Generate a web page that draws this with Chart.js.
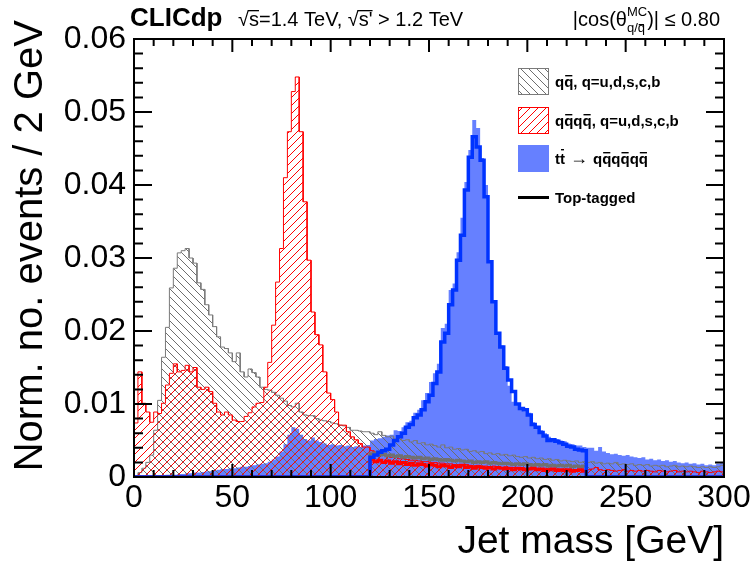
<!DOCTYPE html>
<html>
<head>
<meta charset="utf-8">
<script src="https://cdn.jsdelivr.net/npm/chart.js@4.4.0/dist/chart.umd.min.js"></script>
<style>
  body { margin: 0; background: #fff; }
  #wrap { width: 755px; height: 565px; }
</style>
</head>
<body>
<div id="wrap"><canvas id="massChart" width="755" height="565"></canvas></div>
<script>
// Binning (GeV)
var binWidth = 2;
var massMin = 0;
var massMax = 300;
var yMax = 0.06;
// mass window of the top-tagged distributions (GeV)
var tagWindow = [120, 230];

// q qbar background, 150 bins of 2 GeV
var qqValues = [
  0.0002, 0.0006, 0.0012, 0.0020, 0.0030, 0.0064, 0.0105, 0.0164, 0.0205, 0.0259,
  0.0286, 0.0307, 0.0310, 0.0313, 0.0300, 0.0293, 0.0266, 0.0257, 0.0236, 0.0222,
  0.0206, 0.0192, 0.0178, 0.0176, 0.0170, 0.0158, 0.0170, 0.0144, 0.0137, 0.0148,
  0.0143, 0.0137, 0.0123, 0.0120, 0.0119, 0.0116, 0.0112, 0.0108, 0.0104, 0.0098,
  0.0096, 0.0101, 0.0089, 0.0085, 0.0084, 0.0084, 0.0080, 0.0078, 0.0077, 0.0076,
  0.0074, 0.0073, 0.0071, 0.0070, 0.0068, 0.0064, 0.0064, 0.0063, 0.0062, 0.0062,
  0.0060, 0.0058, 0.0062, 0.0057, 0.0055, 0.0056, 0.0052, 0.0054, 0.0050, 0.0051,
  0.0048, 0.0050, 0.0046, 0.0047, 0.0044, 0.0045, 0.0043, 0.0041, 0.0044, 0.0040,
  0.0041, 0.0038, 0.0039, 0.0037, 0.0038, 0.0035, 0.0036, 0.0034, 0.0035, 0.0032,
  0.0033, 0.0031, 0.0032, 0.0030, 0.0031, 0.0029, 0.0030, 0.0028, 0.0027, 0.0028,
  0.0026, 0.0027, 0.0025, 0.0026, 0.0024, 0.0025, 0.0023, 0.0024, 0.0022, 0.0023,
  0.0022, 0.0021, 0.0022, 0.0020, 0.0021, 0.0020, 0.0021, 0.0019, 0.0020, 0.0018,
  0.0019, 0.0018, 0.0020, 0.0017, 0.0018, 0.0017, 0.0018, 0.0016, 0.0017, 0.0016,
  0.0017, 0.0015, 0.0016, 0.0015, 0.0016, 0.0014, 0.0015, 0.0016, 0.0014, 0.0015,
  0.0014, 0.0015, 0.0014, 0.0013, 0.0014, 0.0013, 0.0014, 0.0013, 0.0014, 0.0016
];

// q qbar q qbar background
var qqqqValues = [
  0.0074, 0.0144, 0.0101, 0.0089, 0.0075, 0.0089, 0.0087, 0.0101, 0.0126, 0.0142,
  0.0155, 0.0144, 0.0146, 0.0153, 0.0144, 0.0150, 0.0123, 0.0120, 0.0123, 0.0117,
  0.0101, 0.0089, 0.0085, 0.0089, 0.0085, 0.0078, 0.0076, 0.0076, 0.0083, 0.0088,
  0.0096, 0.0101, 0.0102, 0.0123, 0.0157, 0.0208, 0.0267, 0.0313, 0.0410, 0.0473,
  0.0528, 0.0548, 0.0473, 0.0377, 0.0297, 0.0226, 0.0195, 0.0181, 0.0144, 0.0115,
  0.0106, 0.0089, 0.0071, 0.0071, 0.0062, 0.0055, 0.0051, 0.0046, 0.0041, 0.0041,
  0.0036, 0.0034, 0.0032, 0.0030, 0.0029, 0.0027, 0.0027, 0.0025, 0.0025, 0.0024,
  0.0023, 0.0023, 0.0022, 0.0021, 0.0021, 0.0020, 0.0020, 0.0019, 0.0019, 0.0018,
  0.0018, 0.0017, 0.0017, 0.0016, 0.0017, 0.0016, 0.0015, 0.0016, 0.0015, 0.0015,
  0.0014, 0.0015, 0.0014, 0.0013, 0.0014, 0.0013, 0.0013, 0.0012, 0.0013, 0.0012,
  0.0012, 0.0011, 0.0012, 0.0011, 0.0012, 0.0011, 0.0010, 0.0011, 0.0010, 0.0011,
  0.0010, 0.0010, 0.0009, 0.0010, 0.0009, 0.0010, 0.0011, 0.0013, 0.0010, 0.0009,
  0.0010, 0.0009, 0.0008, 0.0009, 0.0010, 0.0008, 0.0009, 0.0008, 0.0009, 0.0008,
  0.0009, 0.0008, 0.0007, 0.0009, 0.0008, 0.0007, 0.0008, 0.0009, 0.0007, 0.0008,
  0.0007, 0.0008, 0.0007, 0.0006, 0.0008, 0.0007, 0.0006, 0.0007, 0.0008, 0.0007
];

// t tbar -> 6 quarks signal
var ttValues = [
  0.0001, 0.0001, 0.0001, 0.0001, 0.0002, 0.0002, 0.0002, 0.0002, 0.0003, 0.0003,
  0.0003, 0.0004, 0.0004, 0.0005, 0.0005, 0.0006, 0.0006, 0.0007, 0.0008, 0.0008,
  0.0009, 0.0010, 0.0011, 0.0011, 0.0012, 0.0012, 0.0013, 0.0014, 0.0014, 0.0015,
  0.0016, 0.0017, 0.0018, 0.0019, 0.0021, 0.0024, 0.0028, 0.0035, 0.0045, 0.0058,
  0.0068, 0.0066, 0.0058, 0.0052, 0.0050, 0.0054, 0.0050, 0.0048, 0.0046, 0.0044,
  0.0045, 0.0043, 0.0044, 0.0042, 0.0043, 0.0041, 0.0042, 0.0041, 0.0043, 0.0044,
  0.0050, 0.0052, 0.0053, 0.0055, 0.0057, 0.0058, 0.0064, 0.0063, 0.0068, 0.0075,
  0.0077, 0.0088, 0.0092, 0.0105, 0.0115, 0.0130, 0.0142, 0.0155, 0.0204, 0.0210,
  0.0256, 0.0265, 0.0308, 0.0355, 0.0404, 0.0448, 0.0489, 0.0478, 0.0437, 0.0400,
  0.0297, 0.0240, 0.0197, 0.0180, 0.0152, 0.0125, 0.0103, 0.0099, 0.0094, 0.0090,
  0.0088, 0.0075, 0.0070, 0.0064, 0.0060, 0.0055, 0.0053, 0.0052, 0.0050, 0.0049,
  0.0046, 0.0045, 0.0043, 0.0043, 0.0041, 0.0040, 0.0040, 0.0036, 0.0041, 0.0035,
  0.0033, 0.0031, 0.0032, 0.0030, 0.0029, 0.0030, 0.0028, 0.0027, 0.0026, 0.0027,
  0.0024, 0.0025, 0.0023, 0.0024, 0.0022, 0.0023, 0.0021, 0.0022, 0.0020, 0.0019,
  0.0020, 0.0018, 0.0019, 0.0017, 0.0018, 0.0016, 0.0017, 0.0016, 0.0018, 0.0019
];

// Top-tagged distributions, bins inside tagWindow only (120-230 GeV)
var ttTagged = [
  0.0027, 0.0030, 0.0034, 0.0036, 0.0038, 0.0044, 0.0050, 0.0055, 0.0060, 0.0068,
  0.0072, 0.0081, 0.0085, 0.0092, 0.0103, 0.0112, 0.0128, 0.0144, 0.0185, 0.0197,
  0.0236, 0.0256, 0.0297, 0.0331, 0.0393, 0.0438, 0.0466, 0.0452, 0.0434, 0.0384,
  0.0295, 0.0240, 0.0197, 0.0178, 0.0149, 0.0133, 0.0117, 0.0100, 0.0094, 0.0092,
  0.0085, 0.0072, 0.0068, 0.0061, 0.0056, 0.0050, 0.0051, 0.0049, 0.0047, 0.0045,
  0.0042, 0.0041, 0.0038, 0.0037, 0.0036
];
var qqTagged = [
  0.0032, 0.0033, 0.0030, 0.0031, 0.0029, 0.0030, 0.0028, 0.0029, 0.0027, 0.0028,
  0.0027, 0.0026, 0.0027, 0.0025, 0.0026, 0.0024, 0.0025, 0.0024, 0.0023, 0.0024,
  0.0023, 0.0022, 0.0023, 0.0022, 0.0021, 0.0022, 0.0020, 0.0021, 0.0020, 0.0021,
  0.0019, 0.0020, 0.0019, 0.0018, 0.0019, 0.0018, 0.0017, 0.0018, 0.0017, 0.0018,
  0.0017, 0.0016, 0.0017, 0.0016, 0.0017, 0.0015, 0.0016, 0.0015, 0.0016, 0.0015,
  0.0016, 0.0014, 0.0015, 0.0014, 0.0015
];
var qqqqTagged = [
  0.0024, 0.0021, 0.0023, 0.0020, 0.0022, 0.0019, 0.0021, 0.0018, 0.0020, 0.0017,
  0.0019, 0.0016, 0.0018, 0.0017, 0.0015, 0.0017, 0.0016, 0.0014, 0.0016, 0.0015,
  0.0013, 0.0015, 0.0014, 0.0016, 0.0013, 0.0014, 0.0012, 0.0014, 0.0013, 0.0012,
  0.0013, 0.0011, 0.0013, 0.0012, 0.0011, 0.0012, 0.0010, 0.0012, 0.0011, 0.0010,
  0.0011, 0.0012, 0.0010, 0.0011, 0.0009, 0.0010, 0.0011, 0.0009, 0.0010, 0.0009,
  0.0010, 0.0008, 0.0009, 0.0010, 0.0008
];

var FONT = "'Liberation Sans', Arial, Helvetica, sans-serif";
var grayLine = "#7a7a7a";
var grayHatchColor = "#6e6e6e";
var redLine = "#ff0000";
var blueFill = "#6680ff";
var blueLine = "#0033ff";
var hatchGap = 8;

// put the tagged bins into a full-range histogram (zero outside the window)
function fullRange(vals) {
  var nBins = (massMax - massMin) / binWidth;
  var first = (tagWindow[0] - massMin) / binWidth;
  var out = [];
  for (var i = 0; i < nBins; i++) out.push(0);
  vals.forEach(function (v, i) { out[first + i] = v; });
  return out;
}

// histogram -> step outline points (both edges of every bin)
function histPoints(vals) {
  var pts = [];
  vals.forEach(function (v, i) {
    var lo = massMin + i * binWidth;
    pts.push({ x: lo, y: v });
    pts.push({ x: lo + binWidth, y: v });
  });
  return pts;
}

// diagonal hatch lines over a box (caller sets the clip); dir 1 = "\", -1 = "/"
function hatchLines(ctx, box, color, dir) {
  var h = box.bottom - box.top;
  var start = Math.floor((box.left - h) / hatchGap) * hatchGap;
  ctx.strokeStyle = color;
  ctx.lineWidth = 1;
  ctx.beginPath();
  for (var o = start; o <= box.right; o += hatchGap) {
    if (dir > 0) { ctx.moveTo(o, box.top); ctx.lineTo(o + h, box.bottom); }
    else { ctx.moveTo(o, box.bottom); ctx.lineTo(o + h, box.top); }
  }
  ctx.stroke();
}

// hatch fill under the hatched histograms, drawn just before each outline
var hatchFill = {
  id: "hatchFill",
  beforeDatasetDraw: function (chart, args) {
    var ds = chart.data.datasets[args.index];
    if (!ds.hatch) return;
    var pts = args.meta.data;
    var ctx = chart.ctx, a = chart.chartArea;
    var y0 = chart.scales.y.getPixelForValue(0);
    ctx.save();
    ctx.beginPath();
    ctx.rect(a.left, a.top, a.right - a.left, a.bottom - a.top);
    ctx.clip();
    ctx.beginPath();
    ctx.moveTo(pts[0].x, y0);
    pts.forEach(function (p) { ctx.lineTo(p.x, p.y); });
    ctx.lineTo(pts[pts.length - 1].x, y0);
    ctx.closePath();
    ctx.clip();
    hatchLines(ctx, a, ds.hatch.color, ds.hatch.dir);
    ctx.restore();
  }
};

// text with overbars: parts = [[text, barred, barHeight?], ...]
function barText(ctx, parts, x, y, barUp) {
  parts.forEach(function (p) {
    var w = ctx.measureText(p[0]).width;
    ctx.fillText(p[0], x, y);
    if (p[1]) {
      ctx.fillRect(x + 1, y - (p[2] || barUp), w - 2, 1.4);
    }
    x += w;
  });
  return x;
}

// sqrt sign with a bar over the argument
function sqrtS(ctx, x, y, arg) {
  ctx.fillText("\u221a", x, y);
  x += ctx.measureText("\u221a").width;
  var w = ctx.measureText(arg).width;
  ctx.fillText(arg, x, y);
  ctx.fillRect(x - 1, y - 16, w + 1, 1.3);
  return x + w;
}

var decorations = {
  id: "decorations",
  afterDraw: function (chart) {
    var ctx = chart.ctx, a = chart.chartArea;
    var xs = chart.scales.x, ys = chart.scales.y;
    ctx.save();
    ctx.fillStyle = "#000";
    ctx.strokeStyle = "#000";

    // ticks inside the frame, on all four sides
    ctx.lineWidth = 2;
    ctx.beginPath();
    for (var m = massMin; m <= massMax; m += 10) {
      var px = xs.getPixelForValue(m);
      var len = (m % 50 === 0) ? 13 : 7;
      ctx.moveTo(px, a.bottom); ctx.lineTo(px, a.bottom - len);
      ctx.moveTo(px, a.top); ctx.lineTo(px, a.top + len);
    }
    for (var k = 0; k <= 30; k++) {
      var py = ys.getPixelForValue(k * 0.002);
      var l2 = (k % 5 === 0) ? 18 : 9;
      ctx.moveTo(a.left, py); ctx.lineTo(a.left + l2, py);
      ctx.moveTo(a.right, py); ctx.lineTo(a.right - l2, py);
    }
    ctx.stroke();
    ctx.strokeRect(a.left, a.top, a.right - a.left, a.bottom - a.top);

    // axis titles
    ctx.font = "39px " + FONT;
    ctx.textAlign = "right";
    ctx.textBaseline = "alphabetic";
    ctx.fillText("Jet mass [GeV]", a.right, 553);
    ctx.save();
    ctx.translate(42, 20);
    ctx.rotate(-Math.PI / 2);
    ctx.font = "40px " + FONT;
    ctx.fillText("Norm. no. events / 2 GeV", 0, 0);
    ctx.restore();

    // header
    ctx.textAlign = "left";
    ctx.font = "bold 26px " + FONT;
    ctx.fillText("CLICdp", 130, 26);
    ctx.font = "20px " + FONT;
    var x = 238;
    x = sqrtS(ctx, x, 26, "s");
    ctx.fillText("=1.4 TeV, ", x, 26);
    x += ctx.measureText("=1.4 TeV, ").width;
    x = sqrtS(ctx, x, 26, "s'");
    ctx.fillText(" > 1.2 TeV", x, 26);

    // |cos(theta^MC_q/qbar)| <= 0.80, right aligned
    var t1 = "|cos(\u03b8", t2 = ")| \u2264 0.80";
    ctx.font = "20px " + FONT;
    var w1 = ctx.measureText(t1).width, w3 = ctx.measureText(t2).width;
    ctx.font = "13px " + FONT;
    var w2 = Math.max(ctx.measureText("MC").width, ctx.measureText("q/q").width);
    var xr = 720 - (w1 + w2 + w3);
    ctx.font = "20px " + FONT;
    ctx.fillText(t1, xr, 26);
    ctx.font = "13px " + FONT;
    ctx.fillText("MC", xr + w1, 16);
    barText(ctx, [["q/", 0], ["q", 1]], xr + w1, 32, 8);
    ctx.font = "20px " + FONT;
    ctx.fillText(t2, xr + w1 + w2, 26);

    // legend
    var lx = 518, bw = 31, bh = 27;
    var rows = [
      { y: 68, kind: "gray", parts: [["q", 0], ["q", 1], [", q=u,d,s,c,b", 0]] },
      { y: 107, kind: "red", parts: [["q", 0], ["q", 1], ["q", 0], ["q", 1], [", q=u,d,s,c,b", 0]] },
      { y: 145, kind: "blue" },
      { y: 184, kind: "line", parts: [["Top-tagged", 0]] }
    ];
    rows.forEach(function (r) {
      if (r.kind === "gray" || r.kind === "red") {
        var box = { left: lx, right: lx + bw, top: r.y, bottom: r.y + bh };
        ctx.save();
        ctx.beginPath();
        ctx.rect(lx, r.y, bw, bh);
        ctx.clip();
        hatchLines(ctx, box, r.kind === "gray" ? grayHatchColor : redLine, r.kind === "gray" ? 1 : -1);
        ctx.restore();
        ctx.strokeStyle = r.kind === "gray" ? grayLine : redLine;
        ctx.lineWidth = 1;
        ctx.strokeRect(lx + 0.5, r.y + 0.5, bw - 1, bh - 1);
      } else if (r.kind === "blue") {
        ctx.fillStyle = blueFill;
        ctx.fillRect(lx, r.y, bw, bh);
      } else {
        ctx.fillStyle = "#000";
        ctx.fillRect(lx, r.y + 12, bw, 3);
      }
      ctx.fillStyle = "#000";
      ctx.font = "bold 15px " + FONT;
      if (r.kind === "blue") {
        var tx = barText(ctx, [["t", 0], ["t", 1, 15]], 555, r.y + 19, 12);
        ctx.font = "18px " + FONT;
        ctx.fillText(" \u2192 ", tx, r.y + 19);
        tx += ctx.measureText(" \u2192 ").width;
        ctx.font = "bold 15px " + FONT;
        barText(ctx, [["q", 0], ["q", 1], ["q", 0], ["q", 1], ["q", 0], ["q", 1]], tx, r.y + 19, 12);
      } else {
        barText(ctx, r.parts, 555, r.y + 19, 12);
      }
    });
    ctx.restore();
  }
};

Chart.defaults.font.family = FONT;
Chart.defaults.color = "#000";

var ctxMass = document.getElementById("massChart").getContext("2d");
var massChart = new Chart(ctxMass, {
  type: "line",
  data: {
    datasets: [
      { // top-tagged signal
        data: histPoints(fullRange(ttTagged)),
        borderColor: blueLine, borderWidth: 3.5, fill: false, order: 1
      },
      { // top-tagged qqqq
        data: histPoints(fullRange(qqqqTagged)),
        borderColor: redLine, borderWidth: 3, fill: false, order: 2
      },
      { // top-tagged qq
        data: histPoints(fullRange(qqTagged)),
        borderColor: "#707070", borderWidth: 3, fill: false, order: 3
      },
      { // qqqq
        data: histPoints(qqqqValues),
        borderColor: redLine, borderWidth: 1, fill: false, order: 4,
        hatch: { color: redLine, dir: -1 }
      },
      { // qq
        data: histPoints(qqValues),
        borderColor: grayLine, borderWidth: 1, fill: false, order: 5,
        hatch: { color: grayHatchColor, dir: 1 }
      },
      { // tt -> qqqqqq
        data: histPoints(ttValues),
        borderColor: blueFill, borderWidth: 0, backgroundColor: blueFill, fill: "origin", order: 6
      }
    ]
  },
  options: {
    responsive: false,
    animation: false,
    layout: { padding: { left: 0, right: 31, top: 39, bottom: 0 } },
    elements: { point: { radius: 0 }, line: { tension: 0, borderJoinStyle: "miter" } },
    plugins: { legend: { display: false }, tooltip: { enabled: false } },
    scales: {
      x: {
        type: "linear", min: massMin, max: massMax,
        grid: { display: false, drawTicks: false },
        border: { display: false },
        ticks: { stepSize: 50, maxRotation: 0, autoSkip: false, padding: 2, font: { size: 32 }, color: "#000" },
        afterFit: function (s) { s.height = 88; }
      },
      y: {
        min: 0, max: yMax,
        grid: { display: false, drawTicks: false },
        border: { display: false },
        ticks: { stepSize: 0.01, padding: 8, font: { size: 32 }, color: "#000" },
        afterFit: function (s) { s.width = 134; }
      }
    }
  },
  plugins: [hatchFill, decorations]
});
</script>
</body>
</html>
